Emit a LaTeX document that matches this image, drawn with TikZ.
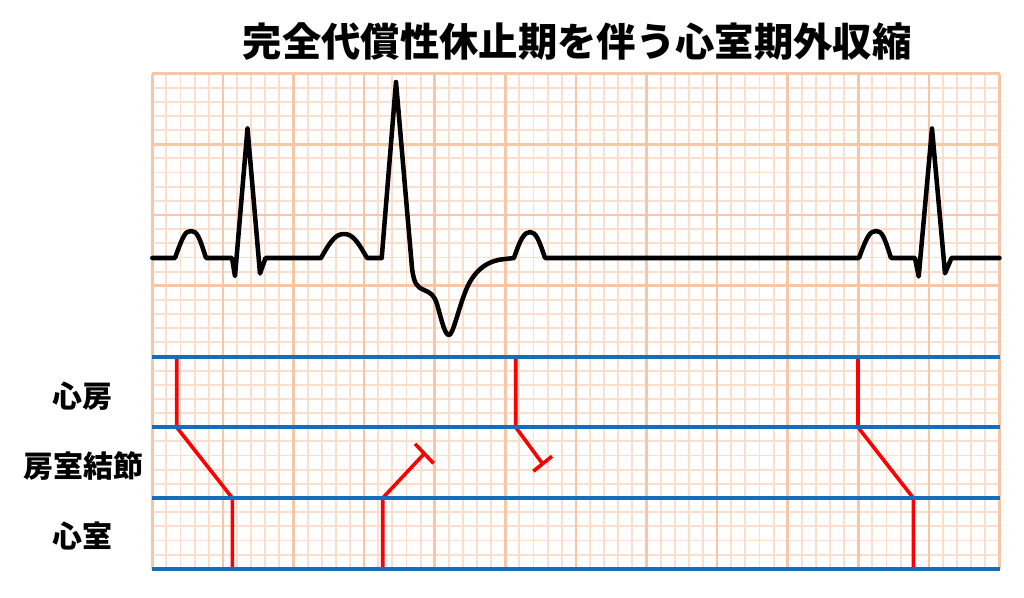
\documentclass[tikz,border=0pt]{standalone}
\usepackage{fontspec}
\newfontfamily\cjk{Noto Sans CJK JP}
\definecolor{gridminor}{RGB}{252,222,204}
\definecolor{gridmajor}{RGB}{247,198,166}
\definecolor{ladderblue}{RGB}{22,110,186}
\definecolor{ladderred}{RGB}{255,0,0}
\tikzset{
  minorline/.style={draw=gridminor, line width=1.4pt},
  majorline/.style={draw=gridmajor, line width=2.0pt},
  ecg/.style={draw=black, line width=3.4pt, line join=round, line cap=round},
  level/.style={draw=ladderblue, line width=3.0pt},
  cond/.style={draw=ladderred, line width=2.7pt},
  rowlabel/.style={font=\cjk\bfseries\fontsize{22.5}{26}\selectfont, anchor=center, inner sep=0pt},
  titlelabel/.style={font=\cjk\bfseries\fontsize{29.5}{34}\selectfont, anchor=center, inner sep=0pt}
}
\begin{document}
\begin{tikzpicture}[x=0.75pt, y=-0.75pt]
\useasboundingbox (0,0) rectangle (1024,597);
% grid
\def\gx{152.3}\def\gy{73.5}\def\sx{14.12}\def\sy{14.15}
\foreach \i in {0,...,60}{
  \pgfmathsetmacro{\xx}{\gx+\i*\sx}
  \draw[minorline] (\xx,\gy) -- (\xx,{\gy+35*\sy});
}
\foreach \j in {0,...,35}{
  \pgfmathsetmacro{\yy}{\gy+\j*\sy}
  \draw[minorline] (\gx,\yy) -- ({\gx+60*\sx},\yy);
}
\foreach \i in {0,5,...,60}{
  \pgfmathsetmacro{\xx}{\gx+\i*\sx}
  \draw[majorline] (\xx,\gy) -- (\xx,{\gy+35*\sy});
}
\foreach \j in {0,5,...,35}{
  \pgfmathsetmacro{\yy}{\gy+\j*\sy}
  \draw[majorline] (\gx,\yy) -- ({\gx+60*\sx},\yy);
}
% title and labels
\node[titlelabel] (title) at (577,42) {完全代償性休止期を伴う心室期外収縮};
\node[rowlabel] (atrium) at (82,396) {心房};
\node[rowlabel] (avnode) at (83,466) {房室結節};
\node[rowlabel] (ventricle) at (82,536) {心室};
% ECG trace
\draw[ecg] (152.3,258) -- (175,258)
  .. controls (183,236) and (185,231) .. (191,231)
  .. controls (197,231) and (199,236) .. (206,258)
  -- (232,258) -- (235,276) -- (247.5,128.5) -- (260,273.5) -- (265.5,258)
  -- (321,258)
  .. controls (331,240) and (336,234) .. (344,234)
  .. controls (352,234) and (357,240) .. (367,258)
  -- (381.7,258) -- (396,82) -- (412,268)
  .. controls (414,284) and (417,287) .. (424,290)
  .. controls (431,293) and (434,295) .. (437,304)
  .. controls (442,322) and (445,335) .. (449,335)
  .. controls (453,335) and (458,310) .. (466,290)
  .. controls (475,268) and (490,260) .. (505,259)
  -- (514,258)
  .. controls (520,240) and (524,232) .. (530,232)
  .. controls (536,232) and (539,240) .. (545,258)
  -- (859,258)
  .. controls (867,236) and (870,231) .. (876,231)
  .. controls (882,231) and (884,236) .. (891,258)
  -- (915,258) -- (918.7,276.5) -- (932,128.5) -- (945,273.3) -- (951.5,258)
  -- (999.5,258);
% ladder coordinates
\coordinate (a1) at (176.7,356.5);
\coordinate (a1b) at (176.7,427.25);
\coordinate (v1t) at (232.3,498);
\coordinate (v1b) at (232.3,568.75);
\coordinate (pvcb) at (382.7,568.75);
\coordinate (pvct) at (382.7,498);
\coordinate (pvce) at (424.3,453.6);
\coordinate (pvcb1) at (415.0,443.8);
\coordinate (pvcb2) at (433.6,463.4);
\coordinate (a2) at (515.7,356.5);
\coordinate (a2b) at (515.7,427.25);
\coordinate (a2e) at (542.6,463.8);
\coordinate (a2b1) at (533.3,471.3);
\coordinate (a2b2) at (552.0,456.3);
\coordinate (a3) at (858,356.5);
\coordinate (a3b) at (858,427.25);
\coordinate (v3t) at (913.3,498);
\coordinate (v3b) at (913.3,568.75);
% conduction lines
\draw[cond] (a1) -- (a1b) -- (v1t) -- (v1b);
\draw[cond] (pvcb) -- (pvct) -- (pvce);
\draw[cond] (pvcb1) -- (pvcb2);
\draw[cond] (a2) -- (a2b) -- (a2e);
\draw[cond] (a2b1) -- (a2b2);
\draw[cond] (a3) -- (a3b) -- (v3t) -- (v3b);
% level lines
\foreach \j in {20,25,30,35}{
  \pgfmathsetmacro{\yy}{\gy+\j*\sy}
  \draw[level] (\gx,\yy) -- ({\gx+60*\sx},\yy);
}
\end{tikzpicture}
\end{document}
